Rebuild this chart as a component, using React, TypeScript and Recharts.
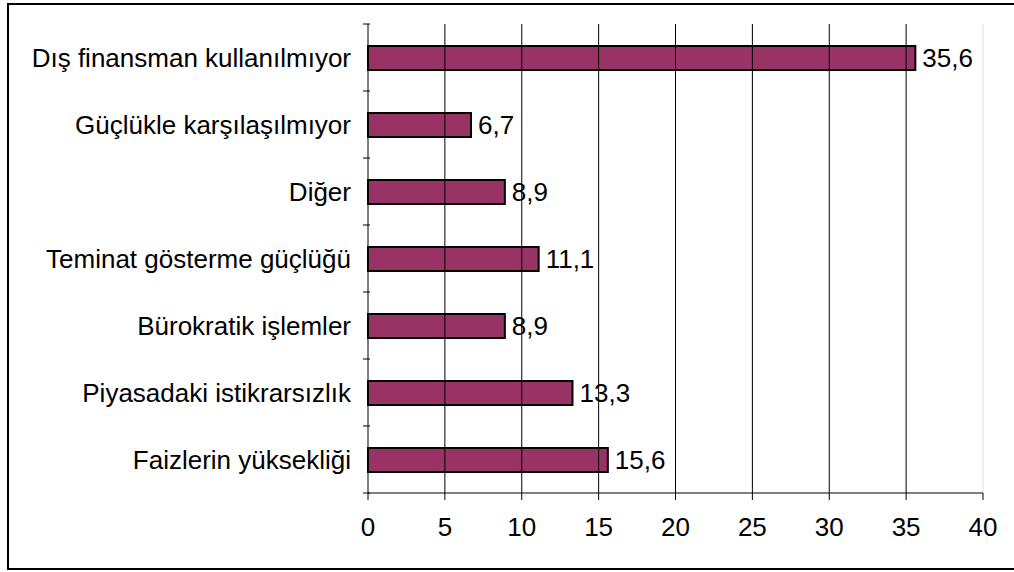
import { BarChart, Bar, XAxis, YAxis, ReferenceLine, LabelList } from 'recharts';

const categories = [
    'Dış finansman kullanılmıyor',
    'Güçlükle karşılaşılmıyor',
    'Diğer',
    'Teminat gösterme güçlüğü',
    'Bürokratik işlemler',
    'Piyasadaki istikrarsızlık',
    'Faizlerin yüksekliği',
];
const values = [35.6, 6.7, 8.9, 11.1, 8.9, 13.3, 15.6];
const xTicks = [0, 5, 10, 15, 20, 25, 30, 35, 40];

const data = categories.map((name, i) => ({ name, value: values[i] }));

const FONT = '"Liberation Sans", Arial, sans-serif';
const TOP = 24;
const BOTTOM = 79;
const HEIGHT = 572;
const BAND = (HEIGHT - TOP - BOTTOM) / categories.length;

const CategoryTick = (props: any) => {
    const { x, y, payload, index } = props;
    const lineX = x + 21;
    return (
        <g>
            <line x1={lineX - 7} x2={lineX} y1={y - BAND / 2} y2={y - BAND / 2} stroke="#000" />
            {index === categories.length - 1 && (
                <line x1={lineX - 7} x2={lineX} y1={y + BAND / 2} y2={y + BAND / 2} stroke="#000" />
            )}
            <text x={x + 2} y={y} dy={9} textAnchor="end" fill="#000" fontSize={26} fontFamily={FONT}>
                {payload.value}
            </text>
        </g>
    );
};

export default function App() {
    return (
        <div style={{ position: 'absolute', left: 0, top: 0, width: 1014, height: 572, overflow: 'hidden', background: '#fff' }}>
            <div
                style={{
                    position: 'absolute',
                    left: 7,
                    top: 3,
                    width: 1030,
                    height: 567,
                    border: '2px solid #000',
                    boxSizing: 'border-box',
                }}
            />
            <div style={{ position: 'absolute', left: 0, top: 0 }}>
                <BarChart
                    width={1014}
                    height={HEIGHT}
                    data={data}
                    layout="vertical"
                    margin={{ top: TOP, right: 31, left: 0, bottom: BOTTOM - 40 }}
                    barCategoryGap={0}
                >
                    {xTicks.slice(1).map((t) => (
                        <ReferenceLine key={t} x={t} stroke={t === 40 ? '#e0e0e0' : '#000'} />
                    ))}
                    <XAxis
                        type="number"
                        domain={[0, 40]}
                        ticks={xTicks}
                        interval={0}
                        height={40}
                        axisLine={{ stroke: '#000' }}
                        tickLine={{ stroke: '#000' }}
                        tickSize={7}
                        tickMargin={18}
                        tick={{ fill: '#000', fontSize: 26, fontFamily: FONT }}
                    />
                    <YAxis
                        type="category"
                        dataKey="name"
                        width={368}
                        interval={0}
                        axisLine={{ stroke: '#000' }}
                        tickLine={false}
                        tickSize={7}
                        tickMargin={12}
                        tick={<CategoryTick />}
                    />
                    <Bar dataKey="value" fill="#993366" stroke="#000" strokeWidth={2} barSize={24} isAnimationActive={false}>
                        <LabelList
                            dataKey="value"
                            position="right"
                            offset={7}
                            formatter={(v: any) => String(v).replace('.', ',')}
                            style={{ fill: '#000', fontSize: 26, fontFamily: FONT }}
                        />
                    </Bar>
                </BarChart>
            </div>
        </div>
    );
}
